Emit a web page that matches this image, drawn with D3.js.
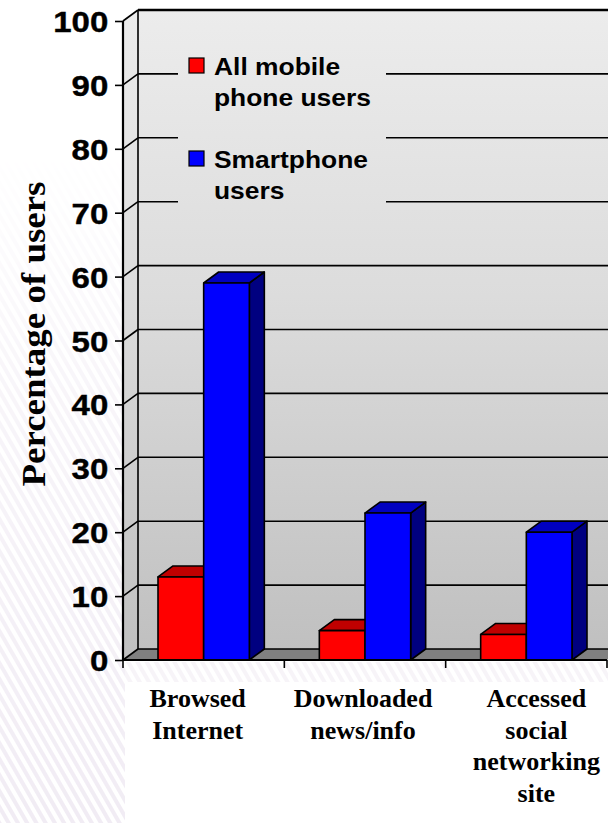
<!DOCTYPE html>
<html>
<head>
<meta charset="utf-8">
<script src="https://cdn.jsdelivr.net/npm/d3@7"></script>
<style>
  body { margin: 0; background: #ffffff; }
  svg { display: block; }
</style>
</head>
<body>
<svg id="chart" width="608" height="823"></svg>
<script>
// ---- data ----
const categories = ["Browsed Internet", "Downloaded news/info", "Accessed social networking site"];
const categoryLines = [["Browsed", "Internet"], ["Downloaded", "news/info"], ["Accessed", "social", "networking", "site"]];
const seriesNames = ["All mobile phone users", "Smartphone users"];
const legendLines = [["All mobile", "phone users"], ["Smartphone", "users"]];
const allMobileValues = [13, 4.6, 4];
const smartphoneValues = [59, 23, 20];
const yTickValues = [0, 10, 20, 30, 40, 50, 60, 70, 80, 90, 100];
const yTitle = "Percentage of users";

// ---- layout ----
const W = 608, H = 823;
const DX = 15, DY = -11;          // depth offset of the 3-D box
const plotLeft = 123, plotRight = 607;
const floorY = 660, topY = 21;
const labelNudge = [-6, -2, 10];  // hand placement of the category captions

const svg = d3.select("#chart");
const defs = svg.append("defs");

// wall shading
const wallGrad = defs.append("linearGradient")
  .attr("id", "wallGrad").attr("gradientUnits", "userSpaceOnUse")
  .attr("x1", 0).attr("y1", topY + DY).attr("x2", 0).attr("y2", floorY + DY);
wallGrad.append("stop").attr("offset", 0).attr("stop-color", "#ececec");
wallGrad.append("stop").attr("offset", 0.45).attr("stop-color", "#dcdcdc");
wallGrad.append("stop").attr("offset", 1).attr("stop-color", "#c0c0c0");

// faint diagonal stripes in the page backdrop
const pat = defs.append("pattern").attr("id", "stripes")
  .attr("patternUnits", "userSpaceOnUse").attr("width", 8).attr("height", 8)
  .attr("patternTransform", "rotate(-30)");
pat.append("rect").attr("width", 8).attr("height", 8).attr("fill", "#ffffff");
pat.append("rect").attr("x", 2).attr("width", 4).attr("height", 8).attr("fill", "#f1ecf4");
const fadeGrad = defs.append("linearGradient").attr("id", "fadeGrad")
  .attr("x1", 0).attr("y1", 0).attr("x2", 0).attr("y2", 1);
fadeGrad.append("stop").attr("offset", 0).attr("stop-color", "#fff").attr("stop-opacity", 0);
fadeGrad.append("stop").attr("offset", 0.35).attr("stop-color", "#fff").attr("stop-opacity", 0.5);
fadeGrad.append("stop").attr("offset", 1).attr("stop-color", "#fff").attr("stop-opacity", 1);
const fadeMask = defs.append("mask").attr("id", "fadeMask");
fadeMask.append("rect").attr("x", 0).attr("y", 150).attr("width", 125).attr("height", H - 150).attr("fill", "url(#fadeGrad)");
fadeMask.append("rect").attr("x", 125).attr("y", 662).attr("width", W - 125).attr("height", 20).attr("fill", "#fff").attr("fill-opacity", 0.6);

svg.append("rect").attr("width", W).attr("height", H).attr("fill", "#ffffff");
svg.append("rect").attr("width", W).attr("height", H).attr("fill", "url(#stripes)").attr("mask", "url(#fadeMask)");

// ---- scales ----
const yFront = d3.scaleLinear().domain([0, 100]).range([floorY, topY]);
const yBack = v => yFront(v) + DY;
const x0 = d3.scaleBand().domain(categories).range([plotLeft, plotRight]).padding(0);
const x1 = d3.scaleBand().domain(seriesNames).range([35, x0.bandwidth() - 35]).padding(0);
const colors = {
  "All mobile phone users": { front: "#ff0000", top: "#c00000", side: "#800000" },
  "Smartphone users": { front: "#0000ff", top: "#0000c0", side: "#000080" }
};

// ---- 3-D box: back wall, side wall, floor ----
const backLeft = plotLeft + DX, backRight = plotRight + DX;
svg.append("rect")
  .attr("x", backLeft).attr("y", yBack(100))
  .attr("width", backRight - backLeft).attr("height", yBack(0) - yBack(100))
  .attr("fill", "url(#wallGrad)");
svg.append("path")
  .attr("d", `M${plotLeft},${yFront(100)}L${backLeft},${yBack(100)}L${backLeft},${yBack(0)}L${plotLeft},${yFront(0)}Z`)
  .attr("fill", "url(#wallGrad)");
svg.append("path")
  .attr("d", `M${plotLeft},${yFront(0)}L${backLeft},${yBack(0)}L${backRight},${yBack(0)}L${plotRight},${yFront(0)}Z`)
  .attr("fill", "#808080");

// gridlines on the back wall and their slants on the side wall
const grid = svg.append("g").attr("stroke", "#000").attr("fill", "none");
grid.selectAll("line.back").data(yTickValues).join("line")
  .attr("class", "back")
  .attr("x1", backLeft).attr("x2", backRight)
  .attr("y1", d => yBack(d)).attr("y2", d => yBack(d))
  .attr("stroke-width", d => d === 100 ? 2.5 : 1.6);
grid.selectAll("line.side").data(yTickValues).join("line")
  .attr("class", "side")
  .attr("x1", plotLeft).attr("y1", d => yFront(d))
  .attr("x2", backLeft).attr("y2", d => yBack(d))
  .attr("stroke-width", 1.6);
grid.append("line")
  .attr("x1", backLeft).attr("x2", backLeft)
  .attr("y1", yBack(100)).attr("y2", yBack(0)).attr("stroke-width", 1.6);

// ---- legend (its panel hides the gridlines behind it) ----
const legend = svg.append("g");
legend.append("rect").attr("x", 178).attr("y", 48).attr("width", 208).attr("height", 168)
  .attr("fill", "url(#wallGrad)");
const legendItems = legend.selectAll("g.item").data(seriesNames).join("g")
  .attr("class", "item")
  .attr("transform", (d, i) => `translate(189,${58 + i * 93})`);
legendItems.append("rect")
  .attr("width", 15).attr("height", 15)
  .attr("fill", d => colors[d].front).attr("stroke", "#000").attr("stroke-width", 1.2);
legendItems.each(function (d, i) {
  const g = d3.select(this);
  legendLines[i].forEach((line, j) => {
    g.append("text")
      .attr("transform", `translate(25,${17 + j * 31}) scale(1.1,1)`)
      .attr("font-family", "'Liberation Sans', Arial, sans-serif")
      .attr("font-weight", "bold").attr("font-size", 24).attr("fill", "#000")
      .text(line);
  });
});

// ---- bars ----
const barData = categories.flatMap((c, i) => [
  { cat: c, series: seriesNames[0], value: allMobileValues[i] },
  { cat: c, series: seriesNames[1], value: smartphoneValues[i] }
]);
const bars = svg.append("g").selectAll("g.bar").data(barData).join("g").attr("class", "bar");
bars.each(function (d) {
  const g = d3.select(this);
  const xl = x0(d.cat) + x1(d.series);
  const xr = xl + x1.bandwidth();
  const yt = yFront(d.value), yb = yFront(0);
  const c = colors[d.series];
  g.append("path")
    .attr("d", `M${xr},${yt}L${xr + DX},${yt + DY}L${xr + DX},${yb + DY}L${xr},${yb}Z`)
    .attr("fill", c.side);
  g.append("path")
    .attr("d", `M${xl},${yt}L${xl + DX},${yt + DY}L${xr + DX},${yt + DY}L${xr},${yt}Z`)
    .attr("fill", c.top);
  g.append("rect")
    .attr("x", xl).attr("y", yt).attr("width", xr - xl).attr("height", yb - yt)
    .attr("fill", c.front);
  g.selectAll("path, rect").attr("stroke", "#000").attr("stroke-width", 1.6).attr("stroke-linejoin", "round");
});

// ---- value axis ----
const yAxis = svg.append("g").attr("transform", `translate(${plotLeft},0)`)
  .call(d3.axisLeft(yFront).tickValues(yTickValues).tickSize(8).tickPadding(6).tickFormat(d3.format("d")));
yAxis.select(".domain").attr("stroke", "#000").attr("stroke-width", 2.2)
  .attr("d", `M0,${yFront(100)}V${yFront(0)}`);
yAxis.selectAll(".tick line").attr("stroke", "#000").attr("stroke-width", 1.6);
yAxis.selectAll(".tick text")
  .attr("x", -14.7 / 1.1).attr("dy", null).attr("y", 10.5)
  .attr("transform", "scale(1.1,1)")
  .attr("font-family", "'Liberation Sans', Arial, sans-serif")
  .attr("font-weight", "bold").attr("font-size", 30).attr("fill", "#000")
  .attr("stroke", "#000").attr("stroke-width", 0.4);

// ---- category axis ----
const catAxis = svg.append("g");
catAxis.append("line")
  .attr("x1", plotLeft).attr("x2", plotRight).attr("y1", floorY).attr("y2", floorY)
  .attr("stroke", "#000").attr("stroke-width", 2.2);
catAxis.selectAll("line.tick").data([...categories.map(c => x0(c)), plotRight]).join("line")
  .attr("class", "tick")
  .attr("x1", d => d).attr("x2", d => d).attr("y1", floorY).attr("y2", floorY + 8)
  .attr("stroke", "#000").attr("stroke-width", 1.6);

// white panel under the chart for the captions
svg.append("rect").attr("x", 125).attr("y", 682).attr("width", W - 125).attr("height", H - 682).attr("fill", "#ffffff");

const catLabels = svg.append("g")
  .attr("font-family", "'Liberation Serif', 'Times New Roman', serif")
  .attr("font-weight", "bold").attr("font-size", 26).attr("fill", "#000")
  .attr("text-anchor", "middle");
categories.forEach((c, i) => {
  const cx = x0(c) + x0.bandwidth() / 2 + labelNudge[i];
  categoryLines[i].forEach((line, j) => {
    catLabels.append("text").attr("x", cx).attr("y", 707 + j * 31.5).text(line);
  });
});

// ---- value-axis title ----
svg.append("text")
  .attr("transform", "translate(45,334) rotate(-90)")
  .attr("text-anchor", "middle")
  .attr("font-family", "'Liberation Serif', 'Times New Roman', serif")
  .attr("font-weight", "bold").attr("font-size", 34).attr("fill", "#000")
  .attr("textLength", 305).attr("lengthAdjust", "spacingAndGlyphs")
  .text(yTitle);
</script>
</body>
</html>
